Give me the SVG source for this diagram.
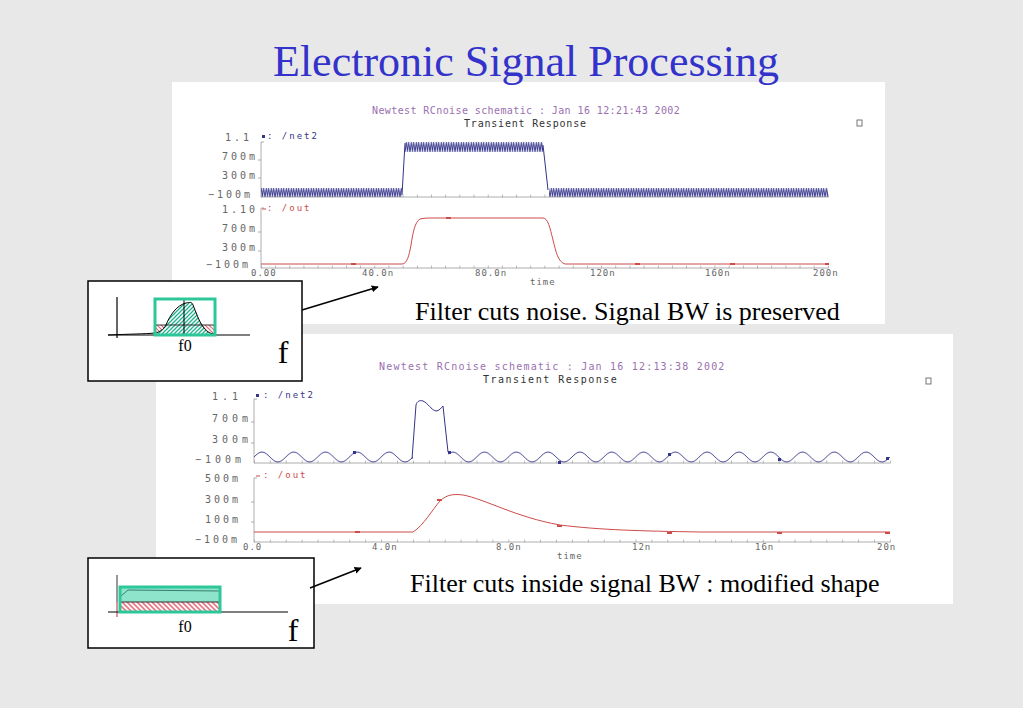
<svg xmlns="http://www.w3.org/2000/svg" width="1023" height="708" viewBox="0 0 1023 708">
<style>
.serif{font-family:"Liberation Serif","Times New Roman",serif}
.m{font-family:"DejaVu Sans Mono","Liberation Mono",monospace}
.lbl{fill:#666;font-size:10px;letter-spacing:3px}
.xl{fill:#666;font-size:9px;letter-spacing:1px}
.ax{stroke:#999;stroke-width:0.8;fill:none}
.tk{stroke:#aaa;stroke-width:3;fill:none}
.net{stroke:#34348a;stroke-width:1;fill:none}
.out{stroke:#cc4b4b;stroke-width:1;fill:none}
.hdr{fill:#9a70b0;font-size:10px}
.tr{fill:#333;font-size:10px}
.box{fill:#fff;stroke:#000;stroke-width:1.5}
.grn{fill:none;stroke:#2ec79a;stroke-width:3}
.blk{fill:none;stroke:#000;stroke-width:1.2}
.arr{stroke:#000;stroke-width:1.5;fill:none;marker-end:url(#ah)}
</style>
<defs>
<marker id="ah" viewBox="0 0 10 10" refX="9" refY="5" markerWidth="7" markerHeight="7" orient="auto" markerUnits="userSpaceOnUse">
<path d="M0,0 L10,5 L0,10 Z" fill="#000"/>
</marker>
<pattern id="zzA" patternUnits="userSpaceOnUse" x="0" y="188" width="2.5" height="9">
<path d="M0,9 L1.25,0 L2.5,9" fill="none" stroke="#34348a" stroke-width="0.9"/>
</pattern>
<pattern id="zzB" patternUnits="userSpaceOnUse" x="0" y="142" width="2.5" height="10">
<path d="M0,10 L1.25,0 L2.5,10" fill="none" stroke="#34348a" stroke-width="0.9"/>
</pattern>
<pattern id="sine" patternUnits="userSpaceOnUse" x="254" y="451" width="31.8" height="12">
<path d="M0,6 C2.657,3.374 5.088,1 7.95,1 C10.812,1 13.243,3.374 15.9,6 C18.557,8.626 20.988,11 23.85,11 C26.712,11 29.143,8.626 31.8,6" fill="none" stroke="#34348a" stroke-width="0.9"/>
</pattern>
<pattern id="hT" patternUnits="userSpaceOnUse" width="4" height="4">
<path d="M0,4 L4,0 M-1,1 L1,-1 M3,5 L5,3" stroke="#1fb08e" stroke-width="1.3"/>
</pattern>
<pattern id="hR" patternUnits="userSpaceOnUse" width="4" height="4">
<path d="M0,0 L4,4 M-1,3 L1,5 M3,-1 L5,1" stroke="#e06878" stroke-width="1.2"/>
</pattern>
<pattern id="hR2" patternUnits="userSpaceOnUse" width="5" height="5">
<path d="M0,0 L5,5 M-1,4 L1,6 M4,-1 L6,1" stroke="#e87a88" stroke-width="1.8"/>
</pattern>
</defs>

<rect x="0" y="0" width="1023" height="708" fill="#e8e8e8"/>

<!-- Top plot panel -->
<g id="plot-top">
<rect x="172" y="82" width="713" height="242" fill="#fff"/>
<text class="m hdr" x="372" y="114" style="letter-spacing:0.4px">Newtest RCnoise schematic : Jan 16 12:21:43 2002</text>
<text class="m tr" x="464" y="127" style="letter-spacing:0.8px">Transient Response</text>
<rect x="857" y="120" width="5" height="6" fill="none" stroke="#555" stroke-width="0.8"/>
<path class="ax" d="M264,142 H261 V197 H828 M258,160 H261 M258,178 H261 M264,208 H261 V268 H828 M258,232 H261 M258,251 H261"/>
<line class="tk" x1="261" y1="196" x2="829" y2="196" stroke-dasharray="0.8 13.375"/>
<line class="tk" x1="261" y1="267" x2="829" y2="267" stroke-dasharray="0.8 13.375"/>
<text class="m lbl" x="225" y="141">1.1</text>
<text class="m lbl" x="222" y="160">700m</text>
<text class="m lbl" x="222" y="179">300m</text>
<text class="m lbl" x="208" y="198">−100m</text>
<text class="m lbl" x="222" y="213">1.10</text>
<text class="m lbl" x="222" y="232">700m</text>
<text class="m lbl" x="222" y="251">300m</text>
<text class="m lbl" x="206" y="268">−100m</text>
<text class="m xl" x="251" y="276">0.00</text>
<text class="m xl" x="362" y="276">40.0n</text>
<text class="m xl" x="475" y="276">80.0n</text>
<text class="m xl" x="590" y="276">120n</text>
<text class="m xl" x="705" y="276">160n</text>
<text class="m xl" x="813" y="276">200n</text>
<text class="m xl" x="530" y="285">time</text>
<rect x="262" y="135" width="3" height="3" fill="#34348a"/>
<text class="m" x="267" y="139" style="fill:#34348a;font-size:9px;letter-spacing:2px">: /net2</text>
<line x1="262" y1="209" x2="266" y2="209" stroke="#cc4b4b" stroke-width="1"/>
<text class="m" x="267" y="211" style="fill:#cc4b4b;font-size:9px;letter-spacing:2px">: /out</text>
<rect x="261" y="188" width="141" height="9" fill="url(#zzA)"/>
<rect x="405" y="142" width="138" height="10" fill="url(#zzB)"/>
<rect x="549" y="188" width="279" height="9" fill="url(#zzA)"/>
<path class="net" d="M402,195 L405,143 M543,145 L548,190"/>
<path class="out" d="M261,264 L402,264 C407,264 409,256 411,245 C413,232 415,222 420,219 C424,218 428,218 432,218 L543,218 C548,218 550,228 553,240 C556,252 558,262 565,264 L828,264"/>
<path d="M351,264 h5 M446,218 h5 M635,264 h5 M730,264 h5 M825,264 h4" stroke="#cc4b4b" stroke-width="2"/>
</g>

<!-- Bottom plot panel -->
<g id="plot-bottom">
<rect x="156" y="334" width="797" height="270" fill="#fff"/>
<text class="m hdr" x="379" y="370" style="letter-spacing:1.2px">Newtest RCnoise schematic : Jan 16 12:13:38 2002</text>
<text class="m tr" x="483" y="383" style="letter-spacing:1.5px">Transient Response</text>
<rect x="926" y="378" width="5" height="6" fill="none" stroke="#555" stroke-width="0.8"/>
<path class="ax" d="M257,399 H254 V463 H890 M251,422 H254 M251,443 H254 M257,478 H254 V542 H890 M251,502 H254 M251,522 H254"/>
<line class="tk" x1="254" y1="462" x2="891" y2="462" stroke-dasharray="0.8 15.1"/>
<line class="tk" x1="254" y1="541" x2="891" y2="541" stroke-dasharray="0.8 15.1"/>
<text class="m lbl" x="212" y="400" style="letter-spacing:4px">1.1</text>
<text class="m lbl" x="212" y="422" style="letter-spacing:4px">700m</text>
<text class="m lbl" x="212" y="443" style="letter-spacing:4px">300m</text>
<text class="m lbl" x="195" y="463" style="letter-spacing:4px">−100m</text>
<text class="m lbl" x="205" y="482">500m</text>
<text class="m lbl" x="205" y="503">300m</text>
<text class="m lbl" x="205" y="523">100m</text>
<text class="m lbl" x="195" y="543">−100m</text>
<text class="m xl" x="243" y="550">0.0</text>
<text class="m xl" x="372" y="550">4.0n</text>
<text class="m xl" x="496" y="550">8.0n</text>
<text class="m xl" x="632" y="550">12n</text>
<text class="m xl" x="755" y="550">16n</text>
<text class="m xl" x="877" y="550">20n</text>
<text class="m xl" x="557" y="559">time</text>
<rect x="256" y="394" width="3" height="3" fill="#34348a"/>
<text class="m" x="263" y="398" style="fill:#34348a;font-size:9px;letter-spacing:2px">: /net2</text>
<line x1="256" y1="476" x2="260" y2="476" stroke="#cc4b4b" stroke-width="1"/>
<text class="m" x="263" y="478" style="fill:#cc4b4b;font-size:9px;letter-spacing:2px">: /out</text>
<rect x="254" y="451" width="159" height="12" fill="url(#sine)"/>
<rect x="448" y="451" width="442" height="12" fill="url(#sine)"/>
<path class="net" d="M412,459 L416,405 C417,401 420,400 423,401 C428,403 431,410 436,411 C439,411 441,408 443,406 L448,452"/>
<path d="M353,451 h3 v3 h-3 Z M448,451 h3 v3 h-3 Z M558,461 h3 v3 h-3 Z M668,453 h3 v3 h-3 Z M778,458 h3 v3 h-3 Z M886,457 h3 v3 h-3 Z" fill="#34348a"/>
<path class="out" d="M254,532 L413,532 C424,525 432,510 440,501 C447,494 455,494 463,495 C485,499 515,517 560,525 C600,530 640,531 700,532 L890,532"/>
<path d="M355,532 h5 M437,500 h5 M557,526 h5 M667,533 h5 M777,533 h5 M885,533 h5" stroke="#cc4b4b" stroke-width="2"/>
</g>

<!-- Title -->
<g id="title">
<text class="serif" x="273" y="76" style="fill:#3333cc;font-size:44px">Electronic Signal Processing</text>
</g>

<!-- Captions -->
<g id="caption-top">
<text class="serif" x="415" y="320" style="fill:#000;font-size:26px">Filter cuts noise. Signal BW is preserved</text>
</g>
<g id="caption-bottom">
<text class="serif" x="410" y="592" style="fill:#000;font-size:26px">Filter cuts inside signal BW : modified shape</text>
</g>

<!-- Top inset -->
<g id="inset-top">
<rect class="box" x="88" y="281" width="214" height="100"/>
<path d="M155,333 C160,332 163,330 166,325 C170,315 177,305 186,303 C190,302 192,302 193,305 C196,312 199,322 204,328 C207,332 211,334 215,334 L215,335 L155,335 Z" fill="url(#hT)"/>
<path d="M155,325 L166,325 C163,330 160,332 155,333 Z" fill="url(#hR)"/>
<path d="M201,325 L215,325 L215,334 C211,334 207,332 204,328 Z" fill="url(#hR)"/>
<line x1="155" y1="325" x2="215" y2="325" stroke="#333" stroke-width="1"/>
<line class="blk" x1="117" y1="297" x2="117" y2="338"/>
<line class="blk" x1="108" y1="335" x2="250" y2="335"/>
<path d="M108,335 C130,334 145,334 155,333 C160,332 163,330 166,325 C170,315 177,305 186,303 C190,302 192,302 193,305 C196,312 199,322 204,328 C207,332 211,334 215,334" fill="none" stroke="#000" stroke-width="1"/>
<line x1="184" y1="299" x2="184" y2="335" stroke="#000" stroke-width="1"/>
<rect class="grn" x="155" y="299" width="60" height="36"/>
<text class="serif" x="185" y="351" text-anchor="middle" style="font-size:16px">f0</text>
<text class="serif" x="283" y="363" text-anchor="middle" style="font-size:32px">f</text>
</g>

<!-- Bottom inset -->
<g id="inset-bottom">
<rect class="box" x="88" y="558" width="226" height="90"/>
<rect x="120" y="587" width="100" height="15" fill="#8ee3cb"/>
<rect x="121" y="602" width="98" height="9" fill="url(#hR2)"/>
<line x1="120" y1="602" x2="220" y2="602" stroke="#333" stroke-width="1"/>
<path d="M121,596 L128,590 L219,591" fill="none" stroke="#226655" stroke-width="0.8"/>
<line x1="117" y1="575" x2="117" y2="602" stroke="#555" stroke-width="1.2"/>
<line x1="117" y1="602" x2="117" y2="617" stroke="#c05060" stroke-width="1.2"/>
<line class="blk" x1="108" y1="612" x2="288" y2="612"/>
<rect class="grn" x="120" y="587" width="100" height="25"/>
<text class="serif" x="185" y="632" text-anchor="middle" style="font-size:16px">f0</text>
<text class="serif" x="293" y="641" text-anchor="middle" style="font-size:32px">f</text>
</g>

<!-- Connectors -->
<g id="connectors">
<line class="arr" x1="302" y1="310" x2="378" y2="287"/>
<line class="arr" x1="310" y1="588" x2="361" y2="568"/>
</g>
</svg>
